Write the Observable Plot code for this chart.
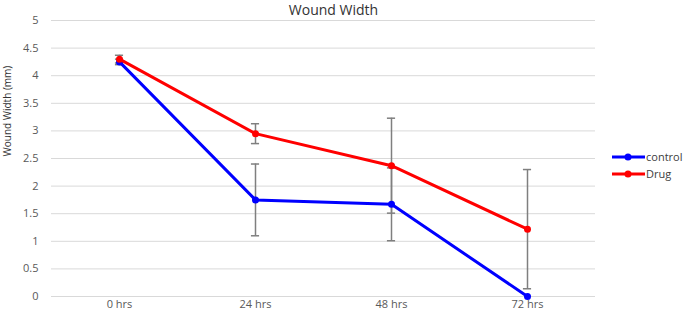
<!DOCTYPE html>
<html><head><meta charset="utf-8">
<script src="https://cdn.jsdelivr.net/npm/d3@7"></script>
<script src="https://cdn.jsdelivr.net/npm/@observablehq/plot@0.6"></script>
<style>body{margin:0;background:#fff;font-family:"Open Sans",sans-serif}</style>
</head><body><div id="chart"></div>
<script>
const categories = ["0 hrs", "24 hrs", "48 hrs", "72 hrs"];
const controlMean = [4.25, 1.75, 1.67, 0];
const controlErr = [0.05, 0.65, 0.66, 0];
const drugMean = [4.30, 2.95, 2.37, 1.22];
const drugErr = [0.07, 0.18, 0.86, 1.08];
const yTicks = [0, 0.5, 1, 1.5, 2, 2.5, 3, 3.5, 4, 4.5, 5];
const seriesNames = ["control", "Drug"];
const seriesColors = ["#0000ff", "#ff0000"];
const title = "Wound Width";
const yLabel = "Wound Width (mm)";

const rows = [];
[controlMean, drugMean].forEach((m, s) => {
  const e = [controlErr, drugErr][s];
  m.forEach((v, i) => rows.push({series: seriesNames[s], i, v, lo: v - e[i], hi: v + e[i]}));
});
const capHalf = 0.03;
const errRows = rows.filter(d => d.hi > d.lo);

const chart = Plot.plot({
  width: 685, height: 314,
  marginLeft: 51, marginRight: 90, marginTop: 20, marginBottom: 18,
  style: {fontFamily: "Open Sans, sans-serif", fontSize: "11px", color: "#595959", background: "#fff"},
  x: {type: "linear", domain: [-0.5, 3.5], ticks: [0,1,2,3], tickFormat: i => categories[i], tickSize: 0, tickPadding: 4, label: null},
  y: {domain: [0, 5], ticks: yTicks, tickFormat: d => String(d), tickSize: 0, tickPadding: 13, label: null},
  marks: [
    Plot.ruleY(yTicks, {stroke: "#d9d9d9", strokeWidth: 1}),
    Plot.ruleX(errRows, {x: "i", y1: "lo", y2: "hi", stroke: "#7f7f7f", strokeWidth: 1.5}),
    Plot.ruleY(errRows, {y: "hi", x1: d => d.i - capHalf, x2: d => d.i + capHalf, stroke: "#7f7f7f", strokeWidth: 1.5}),
    Plot.ruleY(errRows, {y: "lo", x1: d => d.i - capHalf, x2: d => d.i + capHalf, stroke: "#7f7f7f", strokeWidth: 1.5}),
    Plot.line(rows.filter(d => d.series === "control"), {x: "i", y: "v", stroke: seriesColors[0], strokeWidth: 3}),
    Plot.dot(rows.filter(d => d.series === "control"), {x: "i", y: "v", fill: seriesColors[0], r: 3.5}),
    Plot.line(rows.filter(d => d.series === "Drug"), {x: "i", y: "v", stroke: seriesColors[1], strokeWidth: 3}),
    Plot.dot(rows.filter(d => d.series === "Drug"), {x: "i", y: "v", fill: seriesColors[1], r: 3.5}),
    Plot.text([title], {frameAnchor: "top", dx: 10, dy: -10, text: d => d, fontSize: 14, fill: "#333", lineAnchor: "middle"}),
    Plot.text([yLabel], {frameAnchor: "left", dx: -44, dy: -2, rotate: -90, text: d => d, fontSize: 10, fill: "#333"})
  ]
});
document.getElementById("chart").appendChild(chart);

// legend
const svg = d3.select(chart);
const lg = svg.append("g").attr("font-family", "Open Sans, sans-serif").attr("font-size", 11).attr("fill", "#404040").attr("text-anchor", "start");
seriesNames.forEach((n, k) => {
  const y = 157 + k * 17;
  lg.append("line").attr("x1", 612).attr("x2", 645).attr("y1", y).attr("y2", y).attr("stroke", seriesColors[k]).attr("stroke-width", 3);
  lg.append("circle").attr("cx", 628).attr("cy", y).attr("r", 3.5).attr("fill", seriesColors[k]);
  lg.append("text").attr("x", 646).attr("y", y).attr("dy", "0.35em").text(n);
});
</script></body></html>
